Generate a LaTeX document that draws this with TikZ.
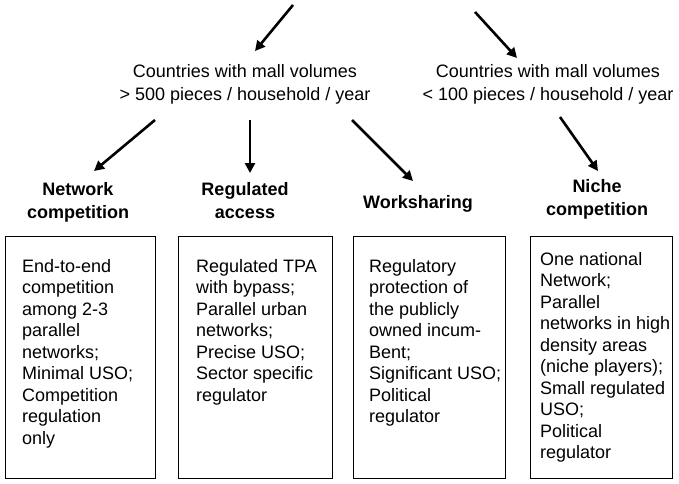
\documentclass[tikz,border=0pt]{standalone}
\usepackage{fontspec}
\setmainfont{Liberation Sans}
\usetikzlibrary{arrows.meta}
\begin{document}
\begin{tikzpicture}[x=1pt,y=-1pt,
  txt/.style={font=\fontsize{18}{23}\selectfont, inner sep=0pt, align=center},
  lbl/.style={font=\fontsize{18}{23}\selectfont\bfseries, inner sep=0pt, align=center},
  box/.style={draw, line width=1pt, anchor=north west, minimum height=242pt, inner sep=0pt},
  btxt/.style={font=\fontsize{18}{21.5}\selectfont, inner sep=0pt, anchor=base west},
  arr/.style={line width=2.6pt, -{Triangle[length=10pt,width=10pt]}}
]
\useasboundingbox (0,0) rectangle (679,483);

% top free ends
\coordinate (s1) at (293,5);
\coordinate (e1) at (255,51);
\coordinate (s2) at (475,12);
\coordinate (e2) at (517,58);

\node[txt] (c1) at (245,84.5) {Countries with mall volumes\\> 500 pieces / household / year};
\node[txt] (c2) at (548,84.5) {Countries with mall volumes\\< 100 pieces / household / year};

\node[lbl] (l1) at (78,202) {Network\\competition};
\node[lbl] (l2) at (245,201) {Regulated\\access};
\node[lbl] (l3) at (418,204) {Worksharing};
\node[lbl] (l4) at (597,199) {Niche\\competition};

\coordinate (a1s) at (155,120); \coordinate (a1e) at (94,171);
\coordinate (a2s) at (250,120); \coordinate (a2e) at (250,173);
\coordinate (a3s) at (352,120); \coordinate (a3e) at (413,181);
\coordinate (a4s) at (560,117); \coordinate (a4e) at (598,171);

\draw[arr] (s1) -- (e1);
\draw[arr] (s2) -- (e2);
\draw[arr] (a1s) -- (a1e);
\draw[arr] (a2s) -- (a2e);
\draw[arr] (a3s) -- (a3e);
\draw[arr] (a4s) -- (a4e);

\node[box, minimum width=150pt] (b1) at (5,236) {};
\node[box, minimum width=154pt] (b2) at (178,236) {};
\node[box, minimum width=152pt] (b3) at (353,236) {};
\node[box, minimum width=142pt] (b4) at (530,236) {};

\node[btxt] (t1) at ([xshift=17pt,yshift=-36pt]b1.north west) {\begin{tabular}[t]{@{}l@{}}End-to-end\\competition\\among 2-3\\parallel\\networks;\\Minimal USO;\\Competition\\regulation\\only\end{tabular}};
\node[btxt] (t2) at ([xshift=18pt,yshift=-36pt]b2.north west) {\begin{tabular}[t]{@{}l@{}}Regulated TPA\\with bypass;\\Parallel urban\\networks;\\Precise USO;\\Sector specific\\regulator\end{tabular}};
\node[btxt] (t3) at ([xshift=16pt,yshift=-36pt]b3.north west) {\begin{tabular}[t]{@{}l@{}}Regulatory\\protection of\\the publicly\\owned incum-\\Bent;\\Significant USO;\\Political\\regulator\end{tabular}};
\node[btxt] (t4) at ([xshift=10pt,yshift=-29pt]b4.north west) {\begin{tabular}[t]{@{}l@{}}One national\\Network;\\Parallel\\networks in high\\density areas\\(niche players);\\Small regulated\\USO;\\Political\\regulator\end{tabular}};
\end{tikzpicture}
\end{document}
